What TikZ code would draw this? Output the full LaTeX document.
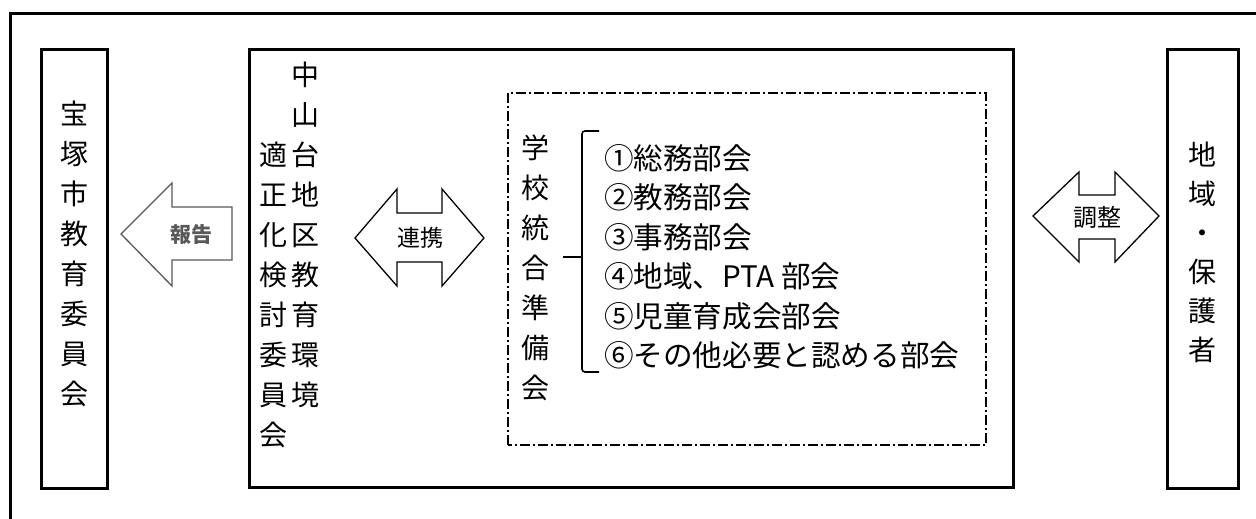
\documentclass[tikz,border=0pt]{standalone}
\usepackage{fontspec}
\usepackage{xcolor}
\usetikzlibrary{positioning}
\newfontfamily\jpfont{Noto Sans CJK JP}

\begin{document}
\begin{tikzpicture}[x=1pt,y=1pt,
  frame/.style={draw=drawColor,line width= 3.0pt,line join=miter},
  blockarrow/.style={draw=drawColor,line width= 1.3pt,line join=miter},
  tatecol/.style={text=drawColor,anchor=center,align=center,inner sep=0pt,outer sep=0pt,font=\jpfont\fontsize{28}{40}\selectfont},
  arrowlabel/.style={text=drawColor,anchor=center,inner sep=0pt,outer sep=0pt,font=\jpfont\fontsize{#1}{#1}\selectfont}]
\definecolor{fillColor}{RGB}{255,255,255}
\path[use as bounding box,fill=fillColor] (0,0) rectangle (1256,519);
\begin{scope}
\definecolor{drawColor}{RGB}{0,0,0}

\path[frame] (10.5,0) --
	(10.5,505) -- (1256,505);

\path[frame] (41,30) rectangle (107,469.5);

\path[frame] (249,31) rectangle (1013,469.5);

\path[frame] (1167,30) rectangle (1238,469.5);

\path[draw=drawColor,line width= 2.0pt,dash pattern=on 10pt off 3pt on 2pt off 3pt] (508,74) rectangle (986,426);

\path[draw=drawColor,line width= 1.6pt,rounded corners=3pt] (599,388) --
	(582,388) -- (582,147) -- (599,147);

\path[draw=drawColor,line width= 1.6pt,rounded corners=3pt] (563,262) --
	(582,262);
\end{scope}
\begin{scope}
\definecolor{drawColor}{gray}{0.35}

\path[blockarrow] (121,285) -- (172,336) -- (172,312) -- (232,312) --
	(232,259) -- (172,259) -- (172,233) -- cycle;

\node[arrowlabel=21] (houkoku) at (191,284) {\bfseries 報告};
\end{scope}
\begin{scope}
\definecolor{drawColor}{RGB}{0,0,0}

\path[blockarrow] (355,281) -- (397,330) -- (397,306) -- (442,306) --
	(442,330) -- (484,281) -- (442,233) -- (442,257) -- (397,257) --
	(397,233) -- cycle;

\node[arrowlabel=23] (renkei) at (420,281) {連携};

\path[blockarrow] (1033,303) -- (1079,347) -- (1079,324) -- (1115,324) --
	(1115,347) -- (1159,303) -- (1115,257) -- (1115,280) -- (1079,280) --
	(1079,257) -- cycle;

\node[arrowlabel=24] (chousei) at (1097,302) {調整};
\end{scope}
\begin{scope}
\definecolor{drawColor}{RGB}{0,0,0}

\node[tatecol] (kyouiku) at (74,265) {宝\\塚\\市\\教\\育\\委\\員\\会};

\node[tatecol] (kankyou) at (305,284) {中\\山\\台\\地\\区\\教\\育\\環\\境};

\node[tatecol] (tekisei) at (273,224) {適\\正\\化\\検\\討\\委\\員\\会};

\node[tatecol] (junbi) at (535,251) {学\\校\\統\\合\\準\\備\\会};

\node[tatecol,font=\jpfont\fontsize{28}{39}\selectfont] (chiiki) at (1202,267) {地\\域\\・\\保\\護\\者};

\node[text=drawColor,anchor=west,align=left,inner sep=0pt,outer sep=0pt,font=\jpfont\fontsize{29.6}{39.5}\selectfont] (bukai) at (604,262) {①総務部会\\②教務部会\\③事務部会\\④地域、PTA 部会\\⑤児童育成会部会\\⑥その他必要と認める部会};
\end{scope}
\end{tikzpicture}
\end{document}
